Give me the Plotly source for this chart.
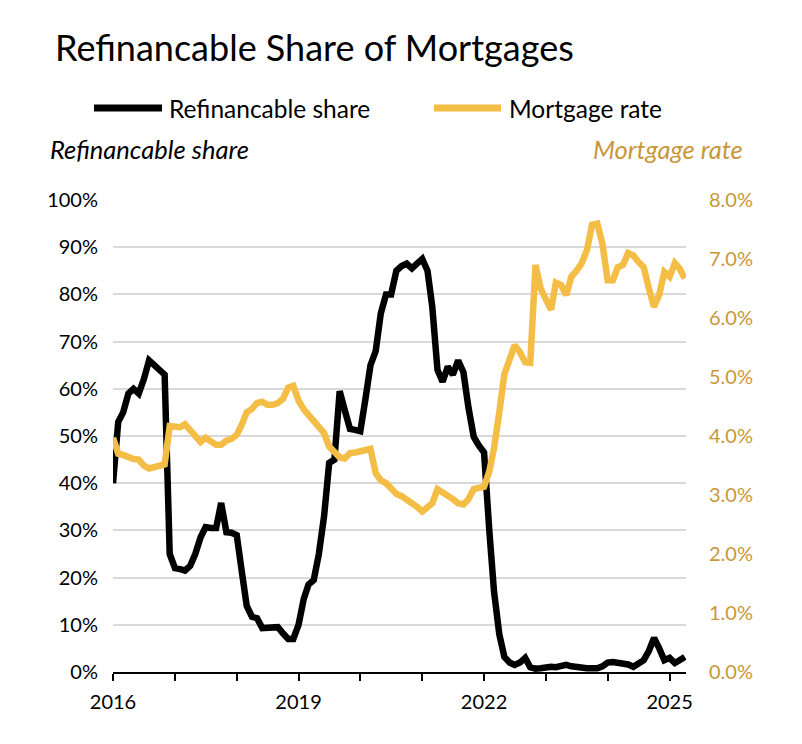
import pandas as pd
import plotly.graph_objects as go

# ---- data (monthly, Jan 2016 onward) ----
start_month = "2016-01-01"
refi_share = [40, 53, 55, 59, 60, 59, 62, 66, 65, 64,
              63, 25, 22, 21.8, 21.5, 22.5, 25, 28.5, 30.7, 30.5,
              30.5, 35.8, 29.6, 29.5, 29, 21, 14, 11.7, 11.4, 9.3,
              9.4, 9.5, 9.5, 8.2, 7, 7, 10, 15.5, 18.5, 19.5,
              25, 33, 44.3, 45, 59.5, 55.5, 51.5, 51.3, 51, 58,
              65, 68, 76, 80, 80, 85, 86, 86.5, 85.5, 86.5,
              87.5, 85, 77.4, 64, 61.5, 64.7, 63, 66, 63.5, 56,
              49.8, 48, 46.5, 30, 17, 8, 3.2, 2, 1.5, 2,
              3, 1, 0.7, 0.8, 1.1, 1.1, 1, 1.3, 1.5, 1.2,
              1, 0.9, 0.8, 0.8, 0.8, 1.2, 2, 2.1, 2, 2,
              1.6, 1.1, 1.8, 2.5, 4.5, 7.2, 5, 2.5, 3, 1.9,
              2.5, 3.2]
mortgage_rate = [3.97, 3.7, 3.68, 3.64, 3.61, 3.6, 3.5, 3.45, 3.47, 3.48,
                 3.52, 4.17, 4.15, 4.15, 4.2, 4.1, 4.0, 3.9, 3.97, 3.92,
                 3.85, 3.85, 3.92, 3.95, 4.02, 4.2, 4.4, 4.46, 4.56, 4.58,
                 4.53, 4.53, 4.56, 4.63, 4.82, 4.85, 4.6, 4.45, 4.35, 4.25,
                 4.15, 4.05, 3.82, 3.74, 3.64, 3.62, 3.71, 3.72, 3.74, 3.77,
                 3.78, 3.37, 3.25, 3.2, 3.1, 3.02, 2.98, 2.93, 2.87, 2.8,
                 2.72, 2.8, 2.86, 3.1, 3.05, 3.0, 2.93, 2.86, 2.84, 2.93,
                 3.1, 3.12, 3.14, 3.4, 3.8, 4.4, 5.05, 5.3, 5.54, 5.42,
                 5.25, 5.24, 6.9, 6.5, 6.33, 6.14, 6.6, 6.56, 6.39, 6.7,
                 6.8, 6.93, 7.15, 7.58, 7.6, 7.26, 6.64, 6.64, 6.86, 6.9,
                 7.1, 7.06, 6.95, 6.86, 6.5, 6.19, 6.4, 6.78, 6.7, 6.93,
                 6.84, 6.67]
year_ticks = [str(y) for y in range(2016, 2026)]
year_labels = ["2016", "", "", "2019", "", "", "2022", "", "", "2025"]
left_ticks = [i / 10 for i in range(0, 11)]
left_labels = [f"{i * 10}%" for i in range(0, 11)]
right_ticks = list(range(0, 9))
right_labels = [f"{v:.1f}%" for v in right_ticks]

dates = pd.date_range(start_month, periods=len(refi_share), freq="MS")

BLACK = "#000000"
YELLOW = "#F4BD45"
GOLD = "#C9973A"
FONT = "Lato"

W, H = 802, 744
L, R, T, B = 113, 686, 200, 672

def px(x):
    return (x - L) / (R - L)

def py(y):
    return (B - y) / (B - T)

fig = go.Figure()
fig.add_trace(go.Scatter(x=dates, y=[v / 100 for v in refi_share], mode="lines",
                         line=dict(color=BLACK, width=6.5), name="Refinancable share",
                         yaxis="y", showlegend=False))
fig.add_trace(go.Scatter(x=dates, y=mortgage_rate, mode="lines",
                         line=dict(color=YELLOW, width=6.5), name="Mortgage rate",
                         yaxis="y2", showlegend=False))

annotations = [
    dict(text="Refinancable Share of Mortgages", x=px(53), y=py(47), xanchor="left",
         yanchor="middle", font=dict(size=36, color="#000000")),
    dict(text="Refinancable share", x=px(167), y=py(108), xanchor="left",
         yanchor="middle", font=dict(size=24.5, color="#000000")),
    dict(text="Mortgage rate", x=px(507), y=py(108), xanchor="left",
         yanchor="middle", font=dict(size=24.5, color="#000000")),
    dict(text="<i>Refinancable share</i>", x=px(48), y=py(149), xanchor="left",
         yanchor="middle", font=dict(size=25.5, color="#000000")),
    dict(text="<i>Mortgage rate</i>", x=px(745), y=py(149), xanchor="right",
         yanchor="middle", font=dict(size=25.5, color=GOLD)),
]
for a in annotations:
    a.update(xref="paper", yref="paper", showarrow=False)

shapes = [
    dict(type="line", xref="paper", yref="paper", x0=px(94), x1=px(162), y0=py(108), y1=py(108),
         line=dict(color=BLACK, width=7)),
    dict(type="line", xref="paper", yref="paper", x0=px(434), x1=px(501), y0=py(108), y1=py(108),
         line=dict(color=YELLOW, width=7)),
]

fig.update_layout(
    width=W, height=H,
    margin=dict(l=L, r=W - R, t=T, b=H - B, pad=0),
    paper_bgcolor="white", plot_bgcolor="white",
    font=dict(family=FONT, size=20, color="#000000"),
    annotations=annotations, shapes=shapes,
    xaxis=dict(range=["2016-01-01", "2025-04-08"], tickvals=year_ticks, ticktext=year_labels,
               ticks="outside", ticklen=7, tickwidth=2, tickcolor=BLACK,
               showline=True, linecolor=BLACK, linewidth=2, showgrid=False,
               tickfont=dict(size=20), ticklabelstandoff=4, zeroline=False),
    yaxis=dict(range=[0, 1.0], tickvals=left_ticks, ticktext=left_labels,
               showgrid=True, gridcolor="#D9D9D9", gridwidth=2, zeroline=False,
               tickfont=dict(size=20), ticklabelstandoff=14),
    yaxis2=dict(range=[0, 8], tickvals=right_ticks, ticktext=right_labels,
                overlaying="y", side="right", showgrid=False, zeroline=False,
                tickfont=dict(size=20, color=GOLD), ticklabelstandoff=22),
)

fig.write_html("out.html")
